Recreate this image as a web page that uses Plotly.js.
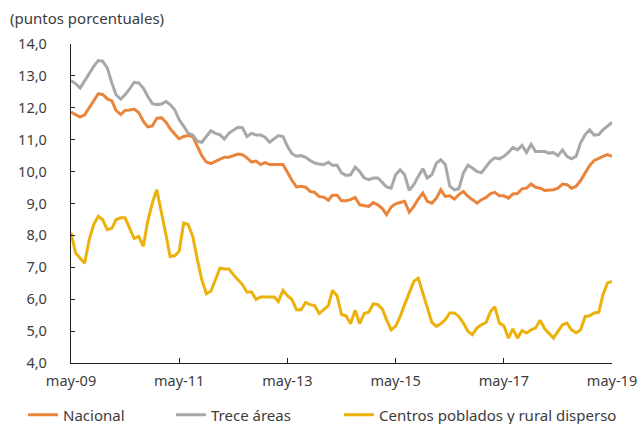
<!DOCTYPE html>
<html>
<head>
<meta charset="utf-8">
<script src="https://cdn.plot.ly/plotly-3.0.1.min.js"></script>
<style>html,body{margin:0;padding:0;background:#fff;}#chart{width:642px;height:424px;}</style>
</head>
<body>
<div id="chart"></div>
<script>
const startYear = 2009, startMonth = 5, nMonths = 121;
const seriesNames = ["Nacional", "Trece áreas", "Centros poblados y rural disperso"];
const nacional = [
11.87, 11.78, 11.71, 11.78, 12.0, 12.25, 12.44, 12.42, 12.28, 12.22,
11.92, 11.79, 11.92, 11.93, 11.96, 11.85, 11.58, 11.4, 11.43, 11.67,
11.69, 11.55, 11.35, 11.18, 11.03, 11.1, 11.13, 11.1, 10.8, 10.5,
10.3, 10.25, 10.32, 10.4, 10.45, 10.45, 10.5, 10.55, 10.53, 10.43,
10.3, 10.33, 10.22, 10.28, 10.22, 10.22, 10.22, 10.22, 9.98, 9.72,
9.52, 9.54, 9.51, 9.38, 9.35, 9.22, 9.2, 9.1, 9.26, 9.26,
9.09, 9.09, 9.12, 9.19, 8.96, 8.94, 8.91, 9.03, 8.96, 8.84,
8.65, 8.89, 8.99, 9.03, 9.07, 8.73, 8.91, 9.14, 9.33, 9.07,
9.01, 9.17, 9.43, 9.22, 9.24, 9.14, 9.28, 9.38, 9.22, 9.12,
9.01, 9.12, 9.19, 9.31, 9.35, 9.24, 9.24, 9.17, 9.3, 9.31,
9.46, 9.48, 9.61, 9.51, 9.48, 9.41, 9.41, 9.43, 9.48, 9.61,
9.59, 9.48, 9.54, 9.72, 9.96, 10.19, 10.35, 10.43, 10.48, 10.53,
10.48];
const treceAreas = [
12.85, 12.76, 12.62, 12.83, 13.07, 13.3, 13.48, 13.46, 13.25, 12.78,
12.41, 12.27, 12.41, 12.59, 12.8, 12.78, 12.62, 12.36, 12.13, 12.1,
12.12, 12.2, 12.1, 11.94, 11.63, 11.42, 11.2, 11.15, 10.95, 10.92,
11.1, 11.28, 11.2, 11.15, 11.02, 11.2, 11.3, 11.39, 11.38, 11.1,
11.2, 11.15, 11.15, 11.08, 10.92, 11.02, 11.13, 11.1, 10.79, 10.56,
10.48, 10.5, 10.45, 10.35, 10.27, 10.24, 10.22, 10.29, 10.2, 10.2,
9.96, 9.88, 9.9, 10.14, 10.0, 9.8, 9.75, 9.8, 9.8, 9.66,
9.52, 9.48, 9.9, 10.06, 9.9, 9.41, 9.59, 9.85, 10.09, 9.8,
9.9, 10.27, 10.37, 10.22, 9.54, 9.43, 9.46, 9.96, 10.2, 10.11,
10.0, 9.97, 10.16, 10.34, 10.43, 10.4, 10.48, 10.6, 10.76, 10.68,
10.82, 10.6, 10.86, 10.63, 10.63, 10.63, 10.58, 10.6, 10.5, 10.68,
10.48, 10.4, 10.48, 10.9, 11.16, 11.31, 11.14, 11.16, 11.31, 11.44,
11.54];
const centrosPoblados = [
8.08, 7.45, 7.29, 7.13, 7.87, 8.34, 8.6, 8.49, 8.18, 8.23,
8.49, 8.55, 8.55, 8.23, 7.9, 7.97, 7.66, 8.44, 9.02, 9.43,
8.75, 8.02, 7.34, 7.36, 7.5, 8.39, 8.34, 7.97, 7.24, 6.61,
6.17, 6.25, 6.61, 6.98, 6.95, 6.95, 6.77, 6.61, 6.46, 6.22,
6.23, 5.99, 6.07, 6.07, 6.07, 6.07, 5.93, 6.28, 6.11, 5.99,
5.67, 5.67, 5.9, 5.83, 5.8, 5.55, 5.67, 5.8, 6.28, 6.11,
5.52, 5.48, 5.23, 5.65, 5.23, 5.55, 5.59, 5.85, 5.83, 5.69,
5.36, 5.04, 5.15, 5.46, 5.83, 6.19, 6.56, 6.66, 6.19, 5.69,
5.27, 5.15, 5.23, 5.36, 5.57, 5.57, 5.46, 5.25, 4.99, 4.89,
5.1, 5.2, 5.27, 5.62, 5.76, 5.25, 5.17, 4.78, 5.07, 4.78,
5.02, 4.94, 5.04, 5.1, 5.34, 5.07, 4.94, 4.78, 4.99, 5.2,
5.25, 5.04, 4.94, 5.04, 5.46, 5.48, 5.57, 5.59, 6.14, 6.51,
6.56];
const tickDates = ["2009-05-01", "2011-05-01", "2013-05-01", "2015-05-01", "2017-05-01", "2019-05-01"];
const tickLabels = ["may-09", "may-11", "may-13", "may-15", "may-17", "may-19"];
const yTicks = [4, 5, 6, 7, 8, 9, 10, 11, 12, 13, 14];

const dates = [];
for (let i = 0; i < nMonths; i++) {
  const t = (startMonth - 1) + i;
  const y = startYear + Math.floor(t / 12);
  const m = (t % 12) + 1;
  dates.push(y + "-" + String(m).padStart(2, "0") + "-01");
}

const colors = ["#E9843A", "#A8A8AA", "#EDB10C"];
const legendIds = ["legend", "legend2", "legend3"];
const legendX = [22, 170, 338];
const values = [nacional, treceAreas, centrosPoblados];
const traces = values.map((v, i) => ({
  x: dates, y: v, name: seriesNames[i], type: "scatter", mode: "lines",
  legend: legendIds[i],
  line: {color: colors[i], width: 3}
}));

const txt = "#3c3c3c";
const font = {family: "Noto Sans, Open Sans, sans-serif", size: 14, color: txt};
const layout = {
  width: 642, height: 424,
  margin: {l: 71, r: 30, t: 44, b: 61},
  paper_bgcolor: "#fff", plot_bgcolor: "#fff",
  font: font,
  separators: ",.",
  showlegend: true,
  title: {text: "(puntos porcentuales)", x: 10/642, xanchor: "left", xref: "container",
          y: 1 - 19/424, yanchor: "middle", yref: "container",
          font: {family: font.family, size: 15, color: txt}},
  xaxis: {type: "date", range: ["2009-05-01", "2019-05-01"], tickvals: tickDates, ticktext: tickLabels,
          showgrid: false, zeroline: false, showline: true, linecolor: "#222", linewidth: 1.2,
          ticks: "inside", ticklen: 5, tickcolor: "#222", ticklabelstandoff: 4,
          tickfont: {family: font.family, size: 14.5, color: txt}},
  yaxis: {range: [4, 14], tickvals: yTicks, tickformat: ".1f", showgrid: false, zeroline: false,
          showline: true, linecolor: "#222", linewidth: 1.2, ticks: "inside", ticklen: 4, tickcolor: "#222",
          ticklabelstandoff: 20, tickfont: {family: font.family, size: 14.5, color: txt}}
};
legendIds.forEach((id, i) => {
  layout[id] = {orientation: "h", xref: "container", yref: "container",
    x: (legendX[i] + 1) / 642, xanchor: "left", y: 1 - 415 / 424, yanchor: "middle",
    bgcolor: "rgba(0,0,0,0)", borderwidth: 0,
    font: {family: font.family, size: 15, color: txt}};
});
Plotly.newPlot("chart", traces, layout, {displayModeBar: false, staticPlot: true});
</script>
</body>
</html>
